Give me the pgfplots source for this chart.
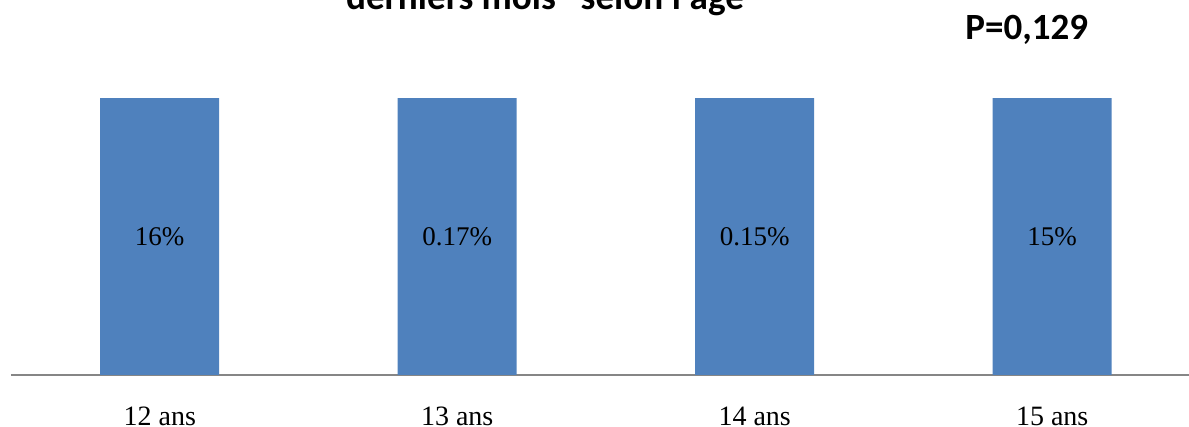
\documentclass[border=0pt]{standalone}
\usepackage{fontspec}
\setmainfont{Liberation Serif}
\newfontfamily\titlefont{Carlito}
\usepackage{pgfplots}
\pgfplotsset{compat=1.18}
\usepackage{pgfplotstable}
\definecolor{barblue}{HTML}{4F81BD}
\definecolor{axisgray}{HTML}{868686}

% age groups: position, value (%), printed label
\pgfplotstableread[col sep=comma]{
x,val,lab
0,16,16\%
1,0.17,0.17\%
2,0.15,0.15\%
3,15,15\%
}\agedata

\begin{document}
\begin{tikzpicture}
\path[use as bounding box, clip] (0,0) rectangle (594.5pt,213.5pt);
\begin{axis}[
  at={(5.5pt,26pt)}, anchor=south west,
  scale only axis, width=589pt, height=138pt,
  ybar, bar width=59.5pt, bar shift=0pt,
  xmin=-0.5, xmax=3.46, ymin=0, ymax=0.1,
  axis x line*=bottom, axis y line=none,
  x axis line style={draw=axisgray, line width=1pt, -},
  xtick=data, xticklabels={12 ans,13 ans,14 ans,15 ans},
  major tick length=0pt,
  xticklabel style={font=\fontsize{14}{16}\selectfont, anchor=north, yshift=-12.5pt},
  clip=true,
]
\addplot[fill=barblue, draw=none, restrict y to domain*=0:1] table[x=x, y=val] {\agedata};
\addplot[draw=none, fill=none,
  nodes near coords, point meta=explicit symbolic,
  every node near coord/.style={anchor=center, font=\fontsize{13.5}{15}\selectfont, text=black}]
  table[x=x, y expr=0.05, meta=lab] {\agedata};
\end{axis}
\node[anchor=base, font=\titlefont\bfseries\fontsize{18.6}{20}\selectfont] at (272.5pt,208.5pt) {derniers mois" selon l'âge};
\node[anchor=base west, inner sep=0pt, font=\titlefont\bfseries\fontsize{18.5}{20}\selectfont] at (482.5pt,193.5pt) {P=0,129};
\end{tikzpicture}
\end{document}
